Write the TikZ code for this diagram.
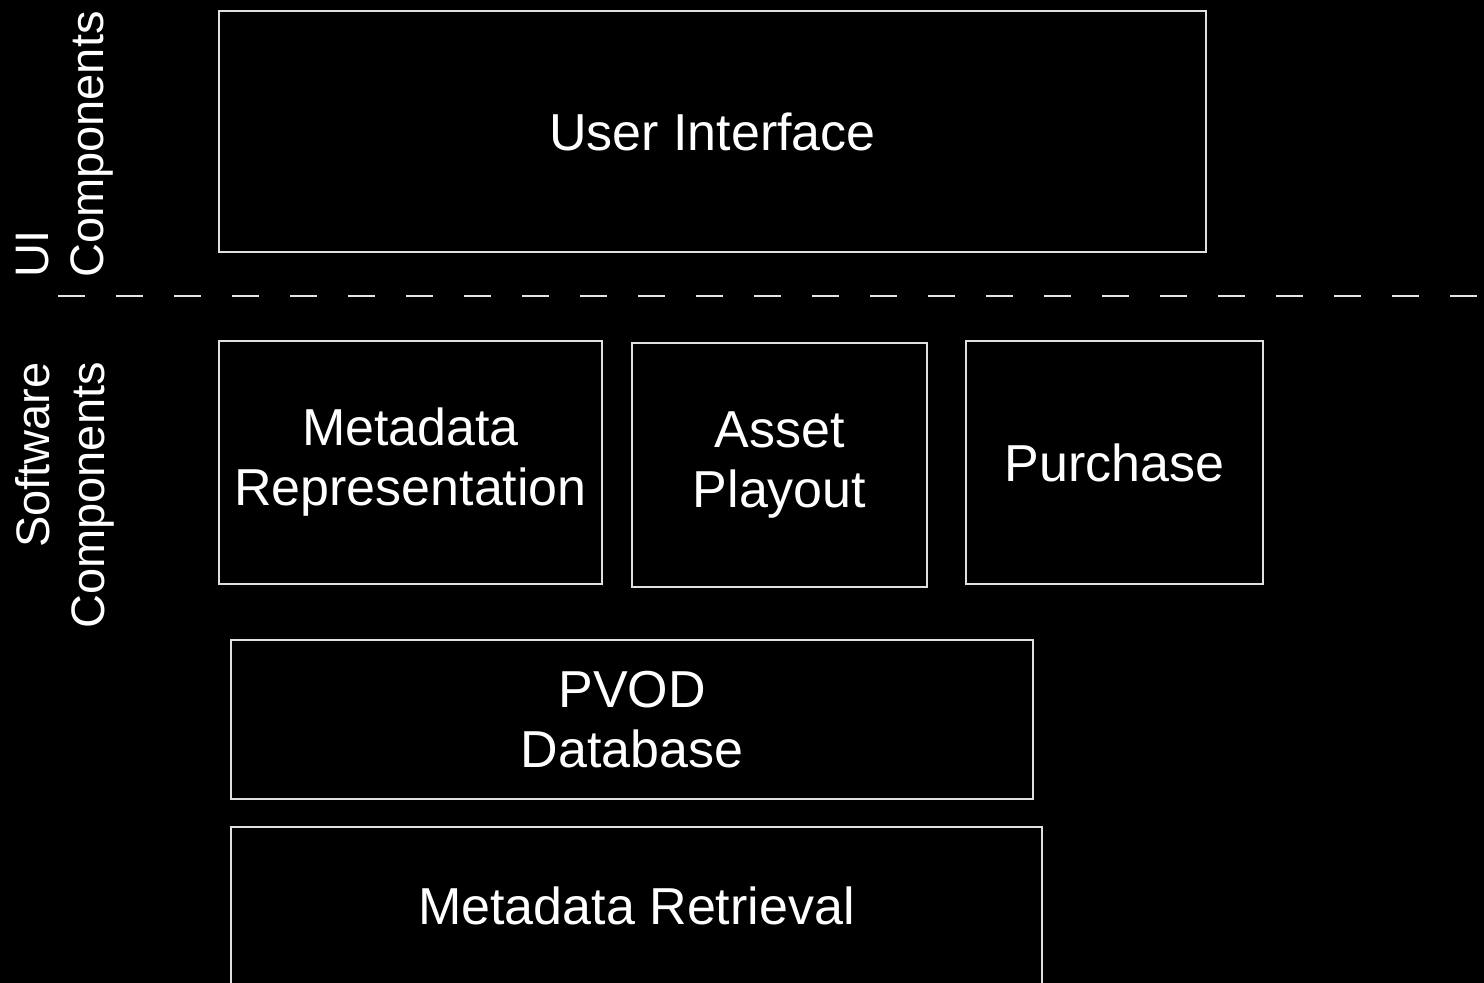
\documentclass[tikz,border=0pt]{standalone}
\usepackage{fontspec}
\setmainfont{Liberation Sans}
\begin{document}
\begin{tikzpicture}[x=1pt,y=-1pt,
  box/.style={draw=white!88!black, line width=1.6pt, text=white, inner sep=0pt,
    align=center, font=\fontsize{52}{60}\selectfont},
  side/.style={text=white, inner sep=0pt, rotate=90, font=\fontsize{47}{55}\selectfont},
  sep/.style={draw=white!90!black, line width=2pt, dash pattern=on 27pt off 31pt}]
\fill[black] (0,0) rectangle (1484,983);
\useasboundingbox (0,0) rectangle (1484,983);
\node[box, minimum width=987pt, minimum height=241pt] (ui) at (712.5,131.5) {User Interface};
\node[box, minimum width=383pt, minimum height=243pt] (mrep) at (410.5,462.5) {Metadata\\Representation};
\node[box, minimum width=295pt, minimum height=244pt] (asset) at (779.5,465) {Asset\\Playout};
\node[box, minimum width=297pt, minimum height=243pt] (purch) at (1114.5,462.5) {Purchase};
\node[box, minimum width=802pt, minimum height=159pt] (pvod) at (632,719.5) {PVOD\\Database};
\node[box, minimum width=811pt, minimum height=158pt] (mret) at (636.5,906) {Metadata Retrieval};
\node[side, anchor=west, align=left] (uilab) at (65,278) {UI\\Components};
\node[side, anchor=east, align=right] (swlab) at (64.5,362) {Software\\Components};
\coordinate (sepL) at (58,296);
\coordinate (sepR) at (1490,296);
\draw[sep] (sepL) -- (sepR);
\end{tikzpicture}
\end{document}
